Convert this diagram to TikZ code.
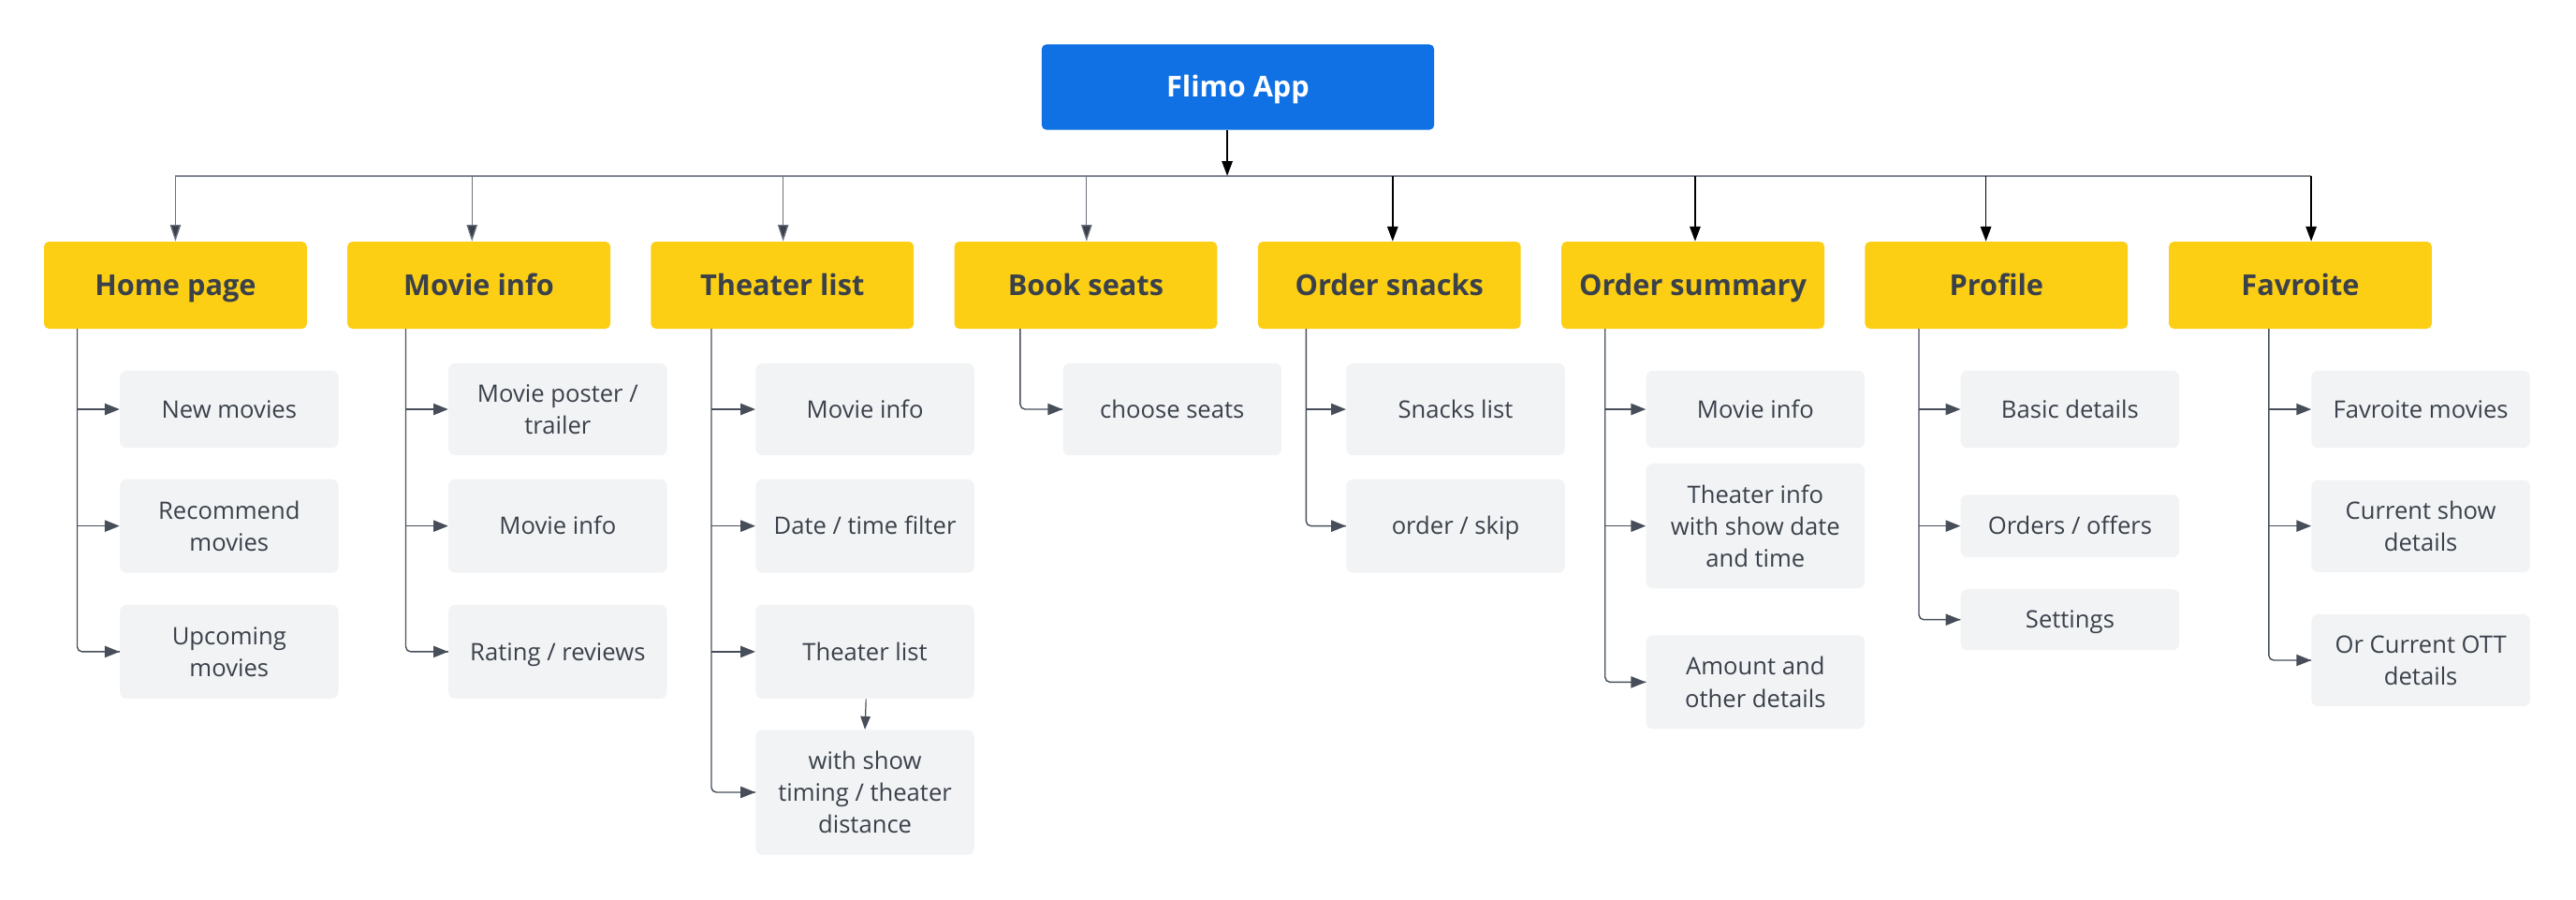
\documentclass[tikz,border=0pt]{standalone}
\usepackage{fontspec}
\setmainfont{Open Sans}
\usetikzlibrary{arrows.meta}
\definecolor{rootblue}{HTML}{1071E5}
\definecolor{catyellow}{HTML}{FCCE14}
\definecolor{darktext}{HTML}{3A414A}
\definecolor{childfill}{HTML}{F2F3F5}
\definecolor{conn}{HTML}{474E5A}
\definecolor{busgray}{HTML}{80868F}
\begin{document}
\begin{tikzpicture}[x=1pt,y=-1pt,
  rootbox/.style={fill=rootblue,rounded corners=3pt,minimum width=239pt,minimum height=52pt,inner sep=0pt,
    text=white,font=\fontsize{17.5}{21}\selectfont\bfseries,text height=12.5pt,text depth=0pt},
  catbox/.style={fill=catyellow,rounded corners=3pt,minimum width=160pt,minimum height=53pt,inner sep=0pt,
    text=darktext,font=\fontsize{17.5}{21}\selectfont\bfseries,text height=12.5pt,text depth=0pt},
  childbox/.style={fill=childfill,rounded corners=4pt,minimum width=133pt,inner sep=0pt,align=center,
    text=darktext,font=\fontsize{14.6}{19.5}\selectfont},
  oneline/.style={text height=10.4pt,text depth=0pt},
  branch/.style={draw=conn,line width=0.8pt,rounded corners=3pt},
  childarrow/.style={draw=conn,line width=0.8pt,-{Triangle[length=9pt,width=7pt]},shorten >=0pt},
  graydrop/.style={draw=conn!80!white,line width=0.7pt,-{Triangle[length=10pt,width=6.5pt,fill=darktext]}},
  blackdrop/.style={draw=black,line width=1pt,-{Triangle[length=9pt,width=6.5pt]}},
  busline/.style={draw=busgray,line width=1.2pt}
]
\useasboundingbox (0,0) rectangle (1568,547);

% root
\node[rootbox] (root) at (753.5,53) {Flimo App};

% categories
\node[catbox] (hp) at (106.8,173.5) {Home page};
\node[catbox] (mi) at (291.5,173.5) {Movie info};
\node[catbox] (tl) at (476.2,173.5) {Theater list};
\node[catbox] (bs) at (660.9,173.5) {Book seats};
\node[catbox] (os) at (845.7,173.5) {Order snacks};
\node[catbox] (su) at (1030.5,173.5) {Order summary};
\node[catbox] (pr) at (1215.2,173.5) {Profile};
\node[catbox] (fv) at (1400.2,173.5) {Favroite};

% bus and drops
\coordinate (rt) at (747,79);
\coordinate (d1) at (106.8,107);
\coordinate (d2) at (287.3,107);
\coordinate (d3) at (476.7,107);
\coordinate (d4) at (661.4,107);
\coordinate (d5) at (847.7,107);
\coordinate (d6) at (1031.8,107);
\coordinate (d7) at (1208.8,107);
\coordinate (d8) at (1406.8,107);
\draw[busline] (d1) -- (d8);
\draw[blackdrop] (rt) -- (rt |- d1);
\draw[graydrop] (d1) -- (d1 |- hp.north);
\draw[graydrop] (d2) -- (d2 |- mi.north);
\draw[graydrop] (d3) -- (d3 |- tl.north);
\draw[graydrop] (d4) -- (d4 |- bs.north);
\draw[blackdrop] (d5) -- (d5 |- os.north);
\draw[blackdrop] (d6) -- (d6 |- su.north);
\draw[blackdrop] (d7) -- (d7 |- pr.north);
\draw[blackdrop] (d8) -- (d8 |- fv.north);

% Home page children
\node[childbox,oneline,minimum height=47pt] (hp1) at (139.5,249) {New movies};
\node[childbox,minimum height=57pt] (hp2) at (139.5,320) {Recommend\\movies};
\node[childbox,minimum height=57pt] (hp3) at (139.5,396.5) {Upcoming\\movies};
\coordinate (hpb) at (47,200);
\draw[branch] (hpb) |- (hp3.west);
\draw[childarrow] (hpb |- hp1.west) -- (hp1.west);
\draw[childarrow] (hpb |- hp2.west) -- (hp2.west);
\draw[childarrow] ([xshift=-8pt]hp3.west) -- (hp3.west);

% Movie info children
\node[childbox,minimum height=56pt] (mi1) at (339.5,249) {Movie poster /\\trailer};
\node[childbox,oneline,minimum height=57pt] (mi2) at (339.5,320) {Movie info};
\node[childbox,oneline,minimum height=57pt] (mi3) at (339.5,396.5) {Rating / reviews};
\coordinate (mib) at (247,200);
\draw[branch] (mib) |- (mi3.west);
\draw[childarrow] (mib |- mi1.west) -- (mi1.west);
\draw[childarrow] (mib |- mi2.west) -- (mi2.west);
\draw[childarrow] ([xshift=-8pt]mi3.west) -- (mi3.west);

% Theater list children
\node[childbox,oneline,minimum height=56pt] (tl1) at (526.5,249) {Movie info};
\node[childbox,oneline,minimum height=57pt] (tl2) at (526.5,320) {Date / time filter};
\node[childbox,oneline,minimum height=57pt] (tl3) at (526.5,396.5) {Theater list};
\node[childbox,minimum height=76pt] (tl4) at (526.5,482) {with show\\timing / theater\\distance};
\coordinate (tlb) at (433,200);
\draw[branch] (tlb) |- (tl4.west);
\draw[childarrow] (tlb |- tl1.west) -- (tl1.west);
\draw[childarrow] (tlb |- tl2.west) -- (tl2.west);
\draw[childarrow] (tlb |- tl3.west) -- (tl3.west);
\draw[childarrow] ([xshift=-8pt]tl4.west) -- (tl4.west);
\draw[draw=conn,line width=0.7pt,-{Triangle[length=8pt,width=6pt]}] ([xshift=0.6pt]tl3.south) -- ([xshift=0.6pt,yshift=-2pt]tl3.south) -- (tl4.north);

% Book seats children
\node[childbox,oneline,minimum height=56pt] (bs1) at (713.5,249) {choose seats};
\coordinate (bsb) at (621,200);
\draw[branch] (bsb) |- (bs1.west);
\draw[childarrow] ([xshift=-8pt]bs1.west) -- (bs1.west);

% Order snacks children
\node[childbox,oneline,minimum height=56pt] (os1) at (886,249) {Snacks list};
\node[childbox,oneline,minimum height=57pt] (os2) at (886,320) {order / skip};
\coordinate (osb) at (795,200);
\draw[branch] (osb) |- (os2.west);
\draw[childarrow] (osb |- os1.west) -- (os1.west);
\draw[childarrow] ([xshift=-8pt]os2.west) -- (os2.west);

% Order summary children
\node[childbox,oneline,minimum height=47pt] (su1) at (1068.5,249) {Movie info};
\node[childbox,minimum height=76pt] (su2) at (1068.5,320) {Theater info\\with show date\\and time};
\node[childbox,minimum height=57pt] (su3) at (1068.5,415) {Amount and\\other details};
\coordinate (sub) at (977,200);
\draw[branch] (sub) |- (su3.west);
\draw[childarrow] (sub |- su1.west) -- (su1.west);
\draw[childarrow] (sub |- su2.west) -- (su2.west);
\draw[childarrow] ([xshift=-8pt]su3.west) -- (su3.west);

% Profile children
\node[childbox,oneline,minimum height=47pt] (pr1) at (1260,249) {Basic details};
\node[childbox,oneline,minimum height=38pt] (pr2) at (1260,320) {Orders / offers};
\node[childbox,oneline,minimum height=37pt] (pr3) at (1260,377) {Settings};
\coordinate (prb) at (1168,200);
\draw[branch] (prb) |- (pr3.west);
\draw[childarrow] (prb |- pr1.west) -- (pr1.west);
\draw[childarrow] (prb |- pr2.west) -- (pr2.west);
\draw[childarrow] ([xshift=-8pt]pr3.west) -- (pr3.west);

% Favroite children
\node[childbox,oneline,minimum height=47pt] (fv1) at (1473.5,249) {Favroite movies};
\node[childbox,minimum height=56pt] (fv2) at (1473.5,320) {Current show\\details};
\node[childbox,minimum height=56pt] (fv3) at (1473.5,401.7) {Or Current OTT\\details};
\coordinate (fvb) at (1381,200);
\draw[branch] (fvb) |- (fv3.west);
\draw[childarrow] (fvb |- fv1.west) -- (fv1.west);
\draw[childarrow] (fvb |- fv2.west) -- (fv2.west);
\draw[childarrow] ([xshift=-8pt]fv3.west) -- (fv3.west);
\end{tikzpicture}
\end{document}
